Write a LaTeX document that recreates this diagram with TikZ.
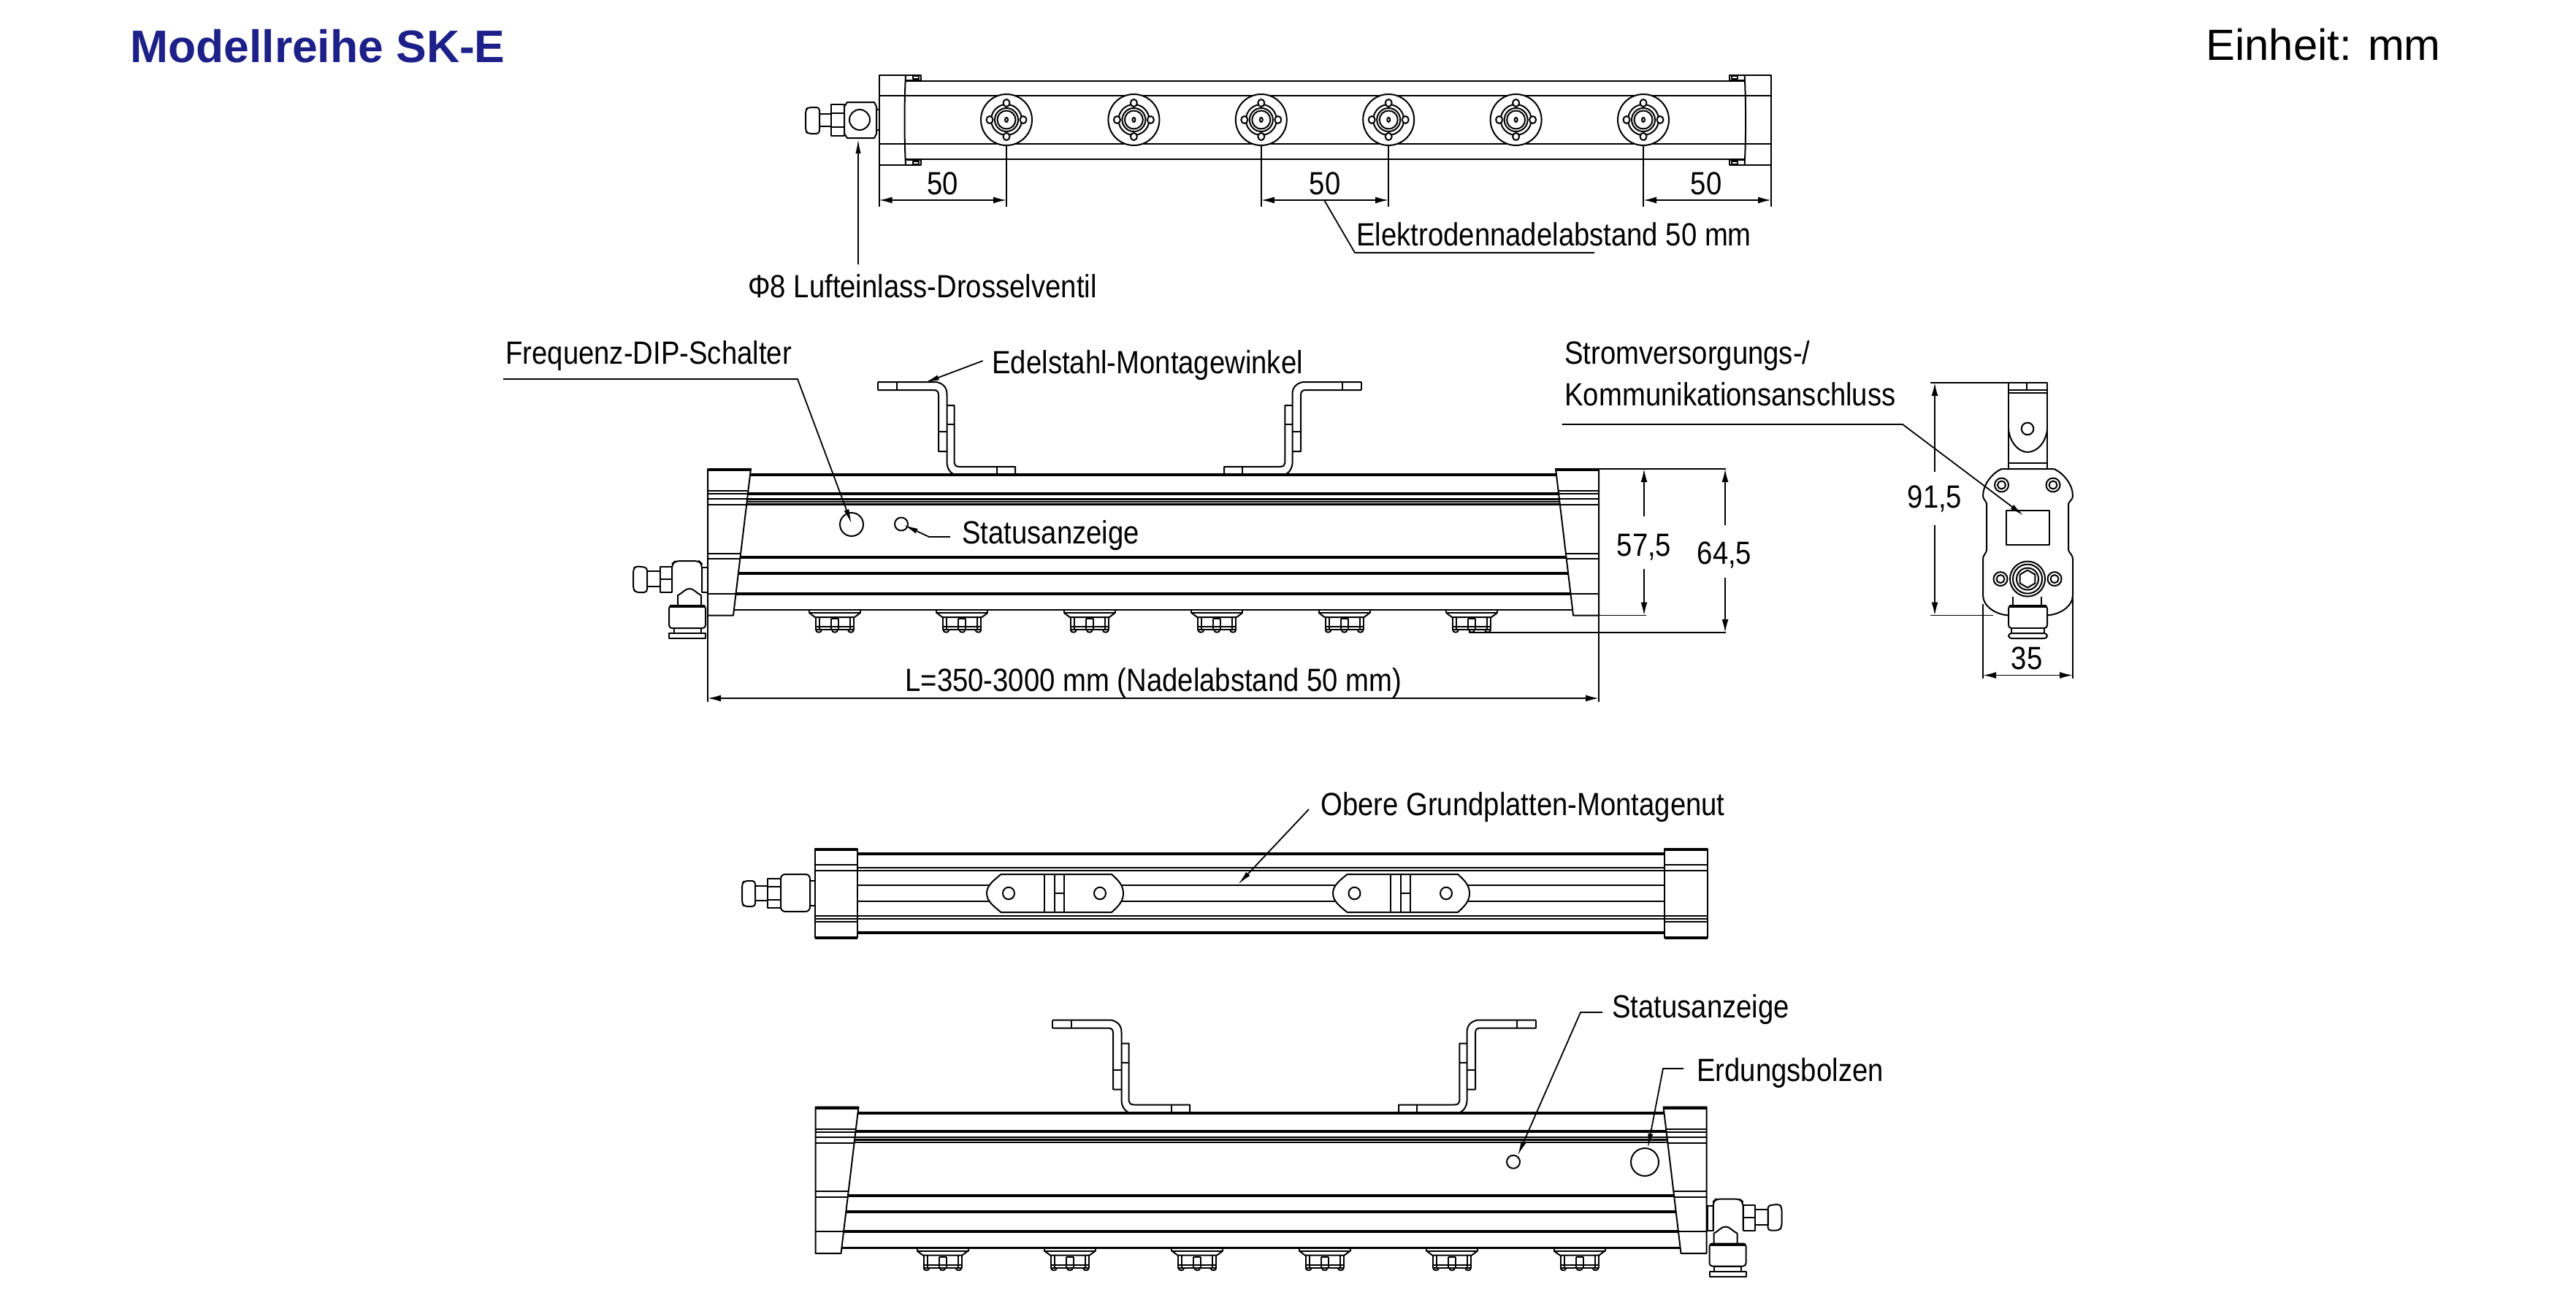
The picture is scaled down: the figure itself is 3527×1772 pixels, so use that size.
\documentclass[tikz,border=0pt]{standalone}
\usepackage{fontspec}
\setmainfont{Liberation Sans}
\newfontfamily\narrowfont[FakeStretch=0.87]{Liberation Sans}
\usetikzlibrary{arrows.meta}
\definecolor{titleblue}{RGB}{29,32,136}

\tikzset{
  part/.style={line width=1pt, line join=round},
  heavy/.style={line width=2pt},
  medium/.style={line width=1.4pt},
  helpline/.style={line width=0.9pt},
  leader/.style={line width=0.9pt, -{Latex[length=10pt,width=3.6pt]}},
  dimline/.style={line width=0.9pt, {Latex[length=9pt,width=4.5pt]}-{Latex[length=9pt,width=4.5pt]}},
  dimhalf/.style={line width=0.9pt, {Latex[length=9pt,width=4.5pt]}-},
  label/.style={anchor=base west, inner sep=0pt, font=\narrowfont\fontsize{22}{26}\selectfont},
  dimnum/.style={anchor=base, inner sep=0pt, font=\narrowfont\fontsize{22}{26}\selectfont}
}

% one nozzle seen from the side, x is relative
\newcommand\sidenozzle{
  \draw[part] (-35,835) -- (-35,839) -- (35,839) -- (35,835);
  \draw[part] (-35,839) -- (-27,845) -- (27,845) -- (35,839);
  \draw[part] (-26,845) -- (-26,862) -- (26,862) -- (26,845);
  \draw[part] (-21,845) -- (-21,862); \draw[part] (21,845) -- (21,862);
  \draw[part] (-5,847) -- (-5,862); \draw[part] (5,847) -- (5,862);
  \draw[part] (-5,847) -- (5,847);
  \draw[part] (-26,858) -- (26,858);
  \foreach \px in {-22,0,22}
    \draw[part] (\px-4,862) .. controls (\px-4,867) and (\px+4,867) .. (\px+4,862);
}

% elbow fitting of the front view
\newcommand\elbowfit{
  \draw[part,rounded corners=2pt] (886,777) -- (870,775) -- (867,780) -- (867,806) -- (870,811) -- (886,811) -- cycle;
  \draw[part] (886,782) rectangle (904,803);
  \draw[part] (904,776) rectangle (920,811);
  \draw[part] (904,793) -- (920,793);
  \draw[part,fill=white,rounded corners=3pt] (920,811) -- (920,772) -- (925,768) -- (957,768) -- (961,772) -- (961,811);
  \draw[part] (961,777) rectangle (969,811);
  \draw[part] (928,829) -- (928,815) .. controls (936,811) and (938,806) .. (944,806) .. controls (950,806) and (952,811) .. (960,815) -- (960,829);
  \draw[part,rounded corners=2pt] (916,829) rectangle (966,860);
  \draw[heavy] (917,830) -- (965,830);
  \draw[part] (923,860) rectangle (960,867);
  \draw[part] (916,867) rectangle (966,874);
}

% bar of the front view with its nozzles
\newcommand\frontbar{
  \draw[part] (969,642) -- (1028,642) -- (1004,842.5) -- (969,842.5) -- cycle;
  \draw[part] (2189,642) -- (2130,642) -- (2154,842.5) -- (2189,842.5) -- cycle;
  \draw[heavy] (969,643) -- (1028,643);
  \draw[heavy] (2130,643) -- (2189,643);
  \foreach \ly/\lw in {650/heavy,675.5/heavy,683.5/medium,687/medium,690.5/medium,763.4/heavy,785.4/heavy,812.6/heavy,835/medium}{
    \pgfmathsetmacro\xa{1028-0.1197*(\ly-642)}
    \pgfmathsetmacro\xb{2130+0.1197*(\ly-642)}
    \draw[\lw] (\xa,\ly) -- (\xb,\ly);
  }
  \foreach \ly in {672,676,683,691,757.5,765,812.6}{
    \pgfmathsetmacro\xa{1028-0.1197*(\ly-642)}
    \pgfmathsetmacro\xb{2130+0.1197*(\ly-642)}
    \draw[part] (969,\ly) -- (\xa,\ly);
    \draw[part] (\xb,\ly) -- (2189,\ly);
  }
  \foreach \nx in {1143,1317.4,1491.8,1666.2,1840.6,2015}{
    \begin{scope}[shift={(\nx,0)}]
      \sidenozzle
    \end{scope}
  }
}

% bent mounting bracket, mirror with shift and xscale=-1
\newcommand\bracketside{
  \draw[part] (1202,523) -- (1282,523) .. controls (1291,525) and (1296.5,530) .. (1296.5,540) -- (1296.5,634) .. controls (1297,641) and (1300,646) .. (1305,649);
  \draw[part] (1202,534) -- (1278,534) .. controls (1283,534) and (1285,536) .. (1285,541) -- (1285,618) -- (1296.5,618);
  \draw[part] (1202,523) -- (1202,534); \draw[part] (1228,523) -- (1228,534);
  \draw[part] (1285,591) -- (1296.5,591);
  \draw[part] (1296.5,555) -- (1306.7,555) -- (1306.7,634) .. controls (1306.7,637) and (1309,639) .. (1314,639) -- (1390,639) -- (1390,649);
  \draw[part] (1296.5,581) -- (1306.7,581);
  \draw[part] (1365,639) -- (1365,649);
}

% disk with needle in the top view
\newcommand\needledisk{
  \draw[part,fill=white] (0,164) circle (35);
  \draw[part] (0,164) circle (21);
  \draw[part] (0,164) circle (16);
  \draw[part] (0,164) circle (12.5);
  \draw[part] (0,164) ellipse (2 and 3);
  \foreach \px/\py in {-23/0,23/0,0/-23,0/23}
    \draw[part,fill=white] (\px,164+\py) ellipse (4.5 and 5);
}

% end cap of the top view
\newcommand\topcap{
  \draw[part] (1261,110) -- (1261,103) -- (1203.6,103) -- (1203.6,226) -- (1261,226) -- (1261,219);
  \draw[part] (1240,103) .. controls (1238,140) and (1238,190) .. (1240,226);
  \draw[part] (1250,104) rectangle (1258,108);
  \draw[part] (1250,221) rectangle (1258,225);
  \draw[part] (1241,110) -- (1261,110); \draw[part] (1241,219) -- (1261,219);
}

% mounting pad in the groove of the third view
\newcommand\groovepad[3]{
  \draw[part,fill=white] (#1+19.5,1197) -- (#1+171,1197) .. controls (#1+180,1205) and (#1+187,1212) .. (#1+187,1223) .. controls (#1+187,1234) and (#1+180,1241) .. (#1+171,1249) -- (#1+19.5,1249) .. controls (#1+10,1241) and (#1,1234) .. (#1,1223) .. controls (#1,1212) and (#1+10,1205) .. (#1+19.5,1197) -- cycle;
  \draw[part] (#1+79,1197) -- (#1+79,1249);
  \draw[part] (#1+93,1197) -- (#1+93,1249);
  \draw[part] (#1+106,1197) -- (#1+106,1249);
  \draw[part] (#1+93,1223) -- (#1+106,1223);
  \draw[part] (#2,1223) ellipse (8 and 8.3);
  \draw[part] (#3,1223) ellipse (8 and 8.3);
}

\begin{document}
\begin{tikzpicture}[x=0.5pt,y=-0.5pt]
  \useasboundingbox (0,0) rectangle (3527,1772);

  \node[anchor=base west,inner sep=0pt,text=titleblue,font=\bfseries\fontsize{31.2}{36}\selectfont] (title) at (178,85) {Modellreihe SK-E};
  \node[anchor=base west,inner sep=0pt,font=\fontsize{29.9}{36}\selectfont] (unit) at (3020,82.7) {Einheit: mm};

  %% top view
  \draw[medium] (1240,111) -- (2388.6,111);
  \draw[medium] (1203.6,131) -- (2425,131);
  \draw[medium] (1203.6,197) -- (2425,197);
  \draw[medium] (1240,218) -- (2388.6,218);
  \topcap
  \begin{scope}[shift={(3628.6,0)},xscale=-1]
    \topcap
  \end{scope}
  \foreach \nx in {1378,1552.4,1726.8,1901.2,2075.6,2250}{
    \begin{scope}[shift={(\nx,0)}]
      \needledisk
    \end{scope}
  }
  % air inlet
  \draw[part,rounded corners=2pt] (1122,147) -- (1106,147) -- (1103,151) -- (1103,179) -- (1106,183) -- (1122,183) -- cycle;
  \draw[part] (1122,156) rectangle (1138,173);
  \draw[part] (1138,143) rectangle (1156,186);
  \draw[part] (1138,155) -- (1156,155); \draw[part] (1138,174) -- (1156,174);
  \draw[part] (1160,140) -- (1197,140) -- (1200,146) -- (1200,183) -- (1197,189) -- (1160,189) -- (1156,183) -- (1156,146) -- cycle;
  \draw[part] (1177,164) circle (14);
  \draw[part] (1200,150) rectangle (1203.6,178);

  % dimensions on top view
  \draw[helpline] (1203.6,226) -- (1203.6,283);
  \draw[helpline] (1378,200) -- (1378,283);
  \draw[helpline] (1726.8,200) -- (1726.8,283);
  \draw[helpline] (1901.2,200) -- (1901.2,283);
  \draw[helpline] (2250,200) -- (2250,283);
  \draw[helpline] (2425,226) -- (2425,283);
  \coordinate (dimAa) at (1203.6,274);
  \coordinate (dimAb) at (1378,274);
  \coordinate (dimBa) at (1726.8,274);
  \coordinate (dimBb) at (1901.2,274);
  \coordinate (dimCa) at (2250,274);
  \coordinate (dimCb) at (2425,274);
  \draw[dimline] (dimAa) -- (dimAb);
  \draw[dimline] (dimBa) -- (dimBb);
  \draw[dimline] (dimCa) -- (dimCb);
  \node[dimnum] (fiftyA) at (1290.5,266.7) {50};
  \node[dimnum] (fiftyB) at (1814,266.7) {50};
  \node[dimnum] (fiftyC) at (2336,266.7) {50};
  \node[label] (pitchLabel) at (1857,336) {Elektrodennadelabstand 50 mm};
  \coordinate (pitchKnee) at (1855,346);
  \coordinate (pitchEnd) at (2183,346);
  \draw[helpline] (1813,274) -- (pitchKnee) -- (pitchEnd);
  \node[label] (inletLabel) at (1024,407) {Φ8 Lufteinlass-Drosselventil};
  \coordinate (inletTail) at (1175,362);
  \coordinate (inletTip) at (1175,190);
  \draw[leader] (inletTail) -- (inletTip);

  %% front view
  \frontbar
  \elbowfit
  \bracketside
  \begin{scope}[shift={(3066,0)},xscale=-1]
    \bracketside
  \end{scope}
  \draw[part] (1166,718) circle (16);
  \draw[part] (1234,717.5) circle (9);

  \node[label] (dipLabel) at (692,498) {Frequenz-DIP-Schalter};
  \coordinate (dipTail) at (689,519);
  \coordinate (dipKnee) at (1092,519);
  \coordinate (dipTip) at (1166,717);
  \draw[leader] (dipTail) -- (dipKnee) -- (dipTip);

  \node[label] (bracketLabel) at (1358,511) {Edelstahl-Montagewinkel};
  \coordinate (bracketTail) at (1345.6,494);
  \coordinate (bracketTip) at (1266,524);
  \draw[leader] (bracketTail) -- (bracketTip);

  \node[label] (statusLabel) at (1317,744) {Statusanzeige};
  \coordinate (statusTail) at (1301,735);
  \coordinate (statusKnee) at (1272,735);
  \coordinate (statusTip) at (1237,718.6);
  \draw[leader] (statusTail) -- (statusKnee) -- (statusTip);

  % dimensions on front view
  \draw[helpline] (2189,642) -- (2363,642);
  \draw[helpline] (2154,842.5) -- (2254,842.5);
  \draw[helpline] (2011,866) -- (2363,866);
  \draw[helpline] (969,842.5) -- (969,961);
  \draw[helpline] (2189,842.5) -- (2189,961);
  \coordinate (lenA) at (969,956);
  \coordinate (lenB) at (2189,956);
  \draw[dimline] (lenA) -- (lenB);
  \node[label] (lenLabel) at (1239,946) {L=350-3000 mm (Nadelabstand 50 mm)};
  \coordinate (heightAtop) at (2251,642);
  \coordinate (heightAmid) at (2251,706.5);
  \coordinate (heightAres) at (2251,779);
  \coordinate (heightAbot) at (2251,842.5);
  \draw[dimhalf] (heightAtop) -- (heightAmid);
  \draw[dimhalf] (heightAbot) -- (heightAres);
  \node[dimnum] (heightAnum) at (2251,761.6) {57,5};
  \coordinate (heightBtop) at (2362,642);
  \coordinate (heightBmid) at (2362,718.6);
  \coordinate (heightBres) at (2362,791);
  \coordinate (heightBbot) at (2362,866);
  \draw[dimhalf] (heightBtop) -- (heightBmid);
  \draw[dimhalf] (heightBbot) -- (heightBres);
  \node[dimnum] (heightBnum) at (2361,772) {64,5};

  %% end view
  \draw[part] (2750,524) rectangle (2803,642);
  \draw[part] (2750,534) -- (2803,534);
  \draw[part] (2750,538) -- (2803,538);
  \draw[part] (2775,524) -- (2775,534);
  \draw[part] (2750,588) .. controls (2752,606) and (2764,619) .. (2776,619) .. controls (2789,619) and (2801,606) .. (2803,588);
  \draw[part] (2776,587) circle (8.3);
  \draw[part] (2750,634) -- (2803,634);
  \draw[part,fill=white] (2740.5,642) -- (2812,642) .. controls (2826,648) and (2838,664) .. (2838,679) .. controls (2838,684) and (2833,686) .. (2832,690) -- (2832,753) .. controls (2833,757) and (2838,760) .. (2838,765) -- (2838,815) .. controls (2838,830) and (2820,842.5) .. (2800,842.5) -- (2752.5,842.5) .. controls (2733,842.5) and (2715,830) .. (2715,815) -- (2715,765) .. controls (2715,760) and (2720,757) .. (2720,753) -- (2720,690) .. controls (2720,686) and (2715,684) .. (2715,679) .. controls (2715,664) and (2727,648) .. (2740.5,642) -- cycle;
  \foreach \bx/\by in {2740.5/664,2811/664,2739/792.6,2813/792.6}{
    \draw[part] (\bx,\by) circle (9.5);
    \draw[part] (\bx,\by) circle (5.5);
  }
  \draw[part] (2747,698.6) rectangle (2806,746);
  \foreach \rr in {24,20,15}
    \draw[part] (2776,792.6) circle (\rr);
  \draw[part] (2776,780.6) -- (2786.4,786.6) -- (2786.4,798.6) -- (2776,804.6) -- (2765.6,798.6) -- (2765.6,786.6) -- cycle;
  \draw[part] (2756,817) -- (2756,829); \draw[part] (2795,817) -- (2795,829);
  \draw[part,fill=white,rounded corners=2pt] (2750,829) rectangle (2803,860);
  \draw[heavy] (2751,830) -- (2802,830);
  \draw[part,fill=white] (2754,860) rectangle (2799,867);
  \draw[part,fill=white,rounded corners=2pt] (2750,867) rectangle (2803,874);

  \node[label] (powerLabelA) at (2142,498) {Stromversorgungs-/};
  \node[label] (powerLabelB) at (2142,555) {Kommunikationsanschluss};
  \coordinate (powerTail) at (2138.5,581);
  \coordinate (powerKnee) at (2605,581);
  \coordinate (powerTip) at (2771,706);
  \draw[leader] (powerTail) -- (powerKnee) -- (powerTip);

  \draw[helpline] (2643,524) -- (2803,524);
  \draw[helpline] (2643,842.5) -- (2729,842.5);
  \draw[helpline] (2715,827) -- (2715,929);
  \draw[helpline] (2838,815) -- (2838,929);
  \coordinate (tallTop) at (2649,524);
  \coordinate (tallMid) at (2649,646);
  \coordinate (tallRes) at (2649,718.6);
  \coordinate (tallBot) at (2649,842.5);
  \draw[dimhalf] (tallTop) -- (tallMid);
  \draw[dimhalf] (tallBot) -- (tallRes);
  \node[dimnum] (tallNum) at (2649,695) {91,5};
  \coordinate (wideA) at (2715,924.5);
  \coordinate (wideB) at (2838,924.5);
  \draw[dimline] (wideA) -- (wideB);
  \node[dimnum] (wideNum) at (2775,916.6) {35};

  %% view on the groove
  \draw[heavy] (1174,1169) -- (2279,1169);
  \draw[medium] (1174,1188) -- (2279,1188);
  \draw[medium] (1116,1192) -- (2337.5,1192);
  \draw[medium] (1174,1212) -- (2279,1212);
  \draw[medium] (1174,1234) -- (2279,1234);
  \draw[medium] (1116,1254) -- (2337.5,1254);
  \draw[medium] (1116,1258) -- (2337.5,1258);
  \draw[heavy] (1174,1277) -- (2279,1277);
  \draw[part] (1116,1162) rectangle (1174,1284);
  \draw[part] (2279,1162) rectangle (2337.5,1284);
  \draw[heavy] (1116,1163) -- (1174,1163); \draw[heavy] (2279,1163) -- (2337.5,1163);
  \draw[heavy] (1116,1284) -- (1174,1284); \draw[heavy] (2279,1284) -- (2337.5,1284);
  \draw[part] (1116,1184) -- (1174,1184); \draw[part] (2279,1184) -- (2337.5,1184);
  \draw[part] (1116,1262) -- (1174,1262); \draw[part] (2279,1262) -- (2337.5,1262);
  \groovepad{1351}{1381}{1506}
  \groovepad{1825}{1854.5}{1980}
  \draw[part,rounded corners=2pt] (1034,1206) -- (1019,1206) -- (1016,1210) -- (1016,1237) -- (1019,1241) -- (1034,1241) -- cycle;
  \draw[part] (1034,1213) rectangle (1051,1233);
  \draw[part] (1051,1203) rectangle (1069,1243);
  \draw[part] (1051,1214) -- (1069,1214); \draw[part] (1051,1232) -- (1069,1232);
  \draw[part,rounded corners=3pt] (1069,1197) rectangle (1109,1248);
  \draw[part] (1109,1206) rectangle (1116,1240);
  \node[label] (grooveLabel) at (1808,1116) {Obere Grundplatten-Montagenut};
  \coordinate (grooveTail) at (1792,1108);
  \coordinate (grooveTip) at (1695,1211);
  \draw[leader] (grooveTail) -- (grooveTip);

  %% back view
  \begin{scope}[shift={(147.5,873.5)}]
    \frontbar
  \end{scope}
  \begin{scope}[shift={(3306.5,873.5)},xscale=-1]
    \elbowfit
  \end{scope}
  \begin{scope}[shift={(239,873.5)}]
    \bracketside
  \end{scope}
  \begin{scope}[shift={(3305,873.5)},xscale=-1]
    \bracketside
  \end{scope}
  \draw[part] (2072,1590.7) circle (9);
  \draw[part] (2252,1591) circle (19);
  \node[label] (statusBackLabel) at (2207,1393) {Statusanzeige};
  \coordinate (statusBackTail) at (2194,1386);
  \coordinate (statusBackKnee) at (2164,1386);
  \coordinate (statusBackTip) at (2078,1582);
  \draw[leader] (statusBackTail) -- (statusBackKnee) -- (statusBackTip);
  \node[label] (earthLabel) at (2323,1480) {Erdungsbolzen};
  \coordinate (earthTail) at (2305,1463);
  \coordinate (earthKnee) at (2277,1463);
  \coordinate (earthTip) at (2256,1572);
  \draw[leader] (earthTail) -- (earthKnee) -- (earthTip);
\end{tikzpicture}
\end{document}
